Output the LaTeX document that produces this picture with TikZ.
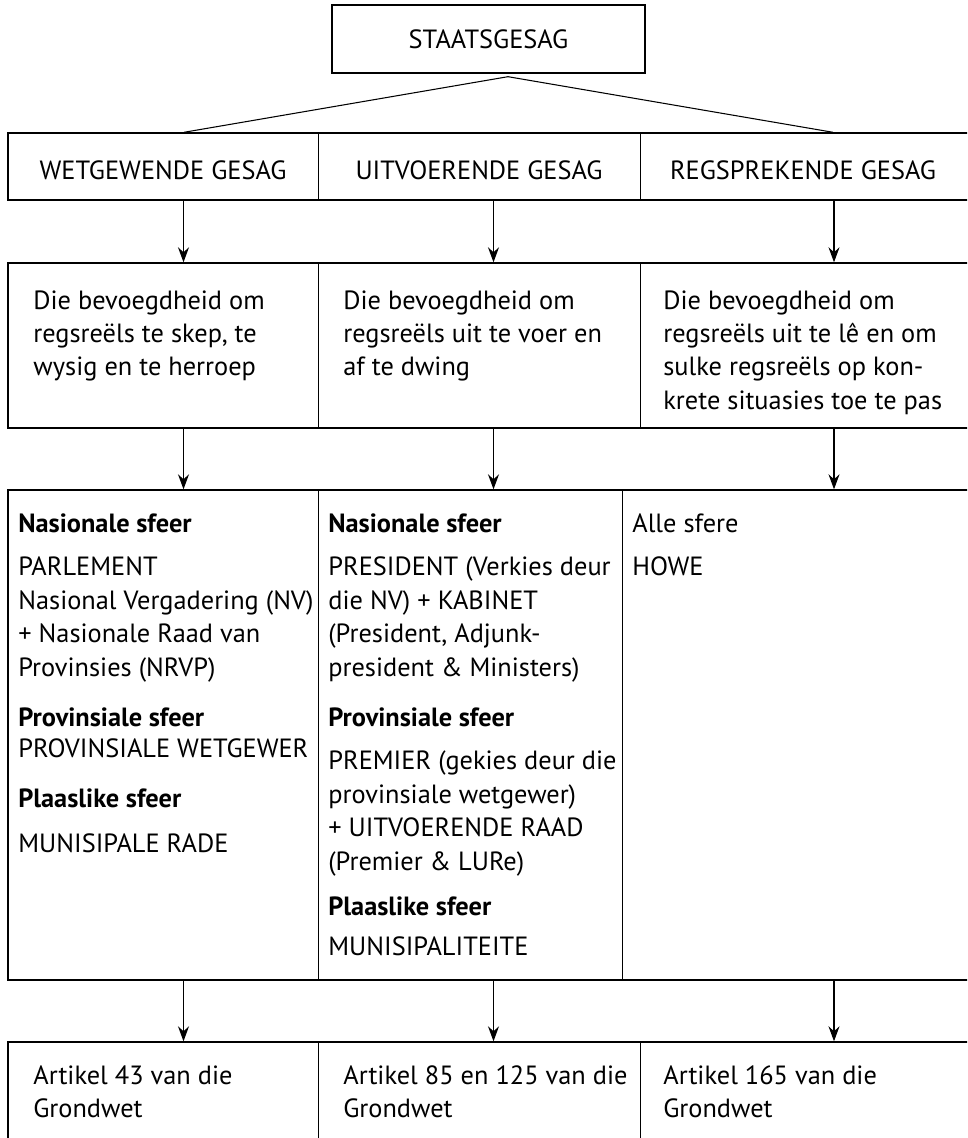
\documentclass[tikz,border=0pt]{standalone}
\usepackage{fontspec}
\setmainfont{PT Sans}
\usetikzlibrary{positioning, arrows.meta, fit, calc}
\tikzset{
  row/.style={draw, line width=0.8pt, inner sep=0pt},
  head/.style={draw, line width=0.8pt, inner sep=0pt, minimum width=6.26cm, minimum height=1.36cm, font=\fontsize{15}{19}\selectfont},
  txt/.style={inner sep=0pt, anchor=north west, align=left, font=\fontsize{15}{19}\selectfont},
  mid/.style={inner sep=0pt, anchor=base, font=\fontsize{15}{19}\selectfont},
  sep/.style={line width=0.5pt},
  arr/.style={line width=0.6pt, -{Stealth[length=3mm, width=2.2mm, inset=1mm]}}
}

\begin{document}
\begin{tikzpicture}[x=0.02cm, y=-0.02cm]
  \useasboundingbox (0,0) rectangle (967,1138);
  \clip (0,0) rectangle (967,1138);

  % Column guides
  \coordinate (k1) at (183.5,0);
  \coordinate (k2) at (493.5,0);
  \coordinate (k3) at (834,0);
  \coordinate (d1) at (318,0);
  \coordinate (d2) at (640,0);
  \coordinate (d3) at (622,0);

  % Top box
  \node[head] (staat) at (488.5,39) {STAATSGESAG};

  % Rows
  \node[row, fit={(8,133) (970,200)}] (gesag) {};
  \node[row, fit={(8,263) (970,428)}] (bevoeg) {};
  \node[row, fit={(8,490) (970,980)}] (organe) {};
  \node[row, fit={(8,1042) (970,1170)}] (artikel) {};

  % Column dividers
  \foreach \r in {gesag, bevoeg, artikel} {
    \draw[sep] (\r.north -| d1) -- (\r.south -| d1);
    \draw[sep] (\r.north -| d2) -- (\r.south -| d2);
  }
  \draw[sep] (organe.north -| d1) -- (organe.south -| d1);
  \draw[sep] (organe.north -| d3) -- (organe.south -| d3);

  % Row 1
  \node[mid] (wg) at (163,180) {WETGEWENDE GESAG};
  \node[mid] (ug) at (479,180) {UITVOERENDE GESAG};
  \node[mid] (rg) at (803,180) {REGSPREKENDE GESAG};

  % Row 2
  \node[txt] (b1) at (33,290) {Die bevoegdheid om\\regsreëls te skep, te\\wysig en te herroep};
  \node[txt] (b2) at (343,290) {Die bevoegdheid om\\regsreëls uit te voer en\\af te dwing};
  \node[txt] (b3) at (663,290) {Die bevoegdheid om\\regsreëls uit te lê en om\\sulke regsreëls op kon-\\krete situasies toe te pas};

  % Row 3
  \node[txt] (o1) at (18,513) {\textbf{Nasionale sfeer}\\[0.21cm]
    PARLEMENT\\Nasional Vergadering (NV)\\+ Nasionale Raad van\\Provinsies (NRVP)\\[0.33cm]
    \textbf{Provinsiale sfeer}\\[-0.03cm]
    PROVINSIALE WETGEWER\\[0.33cm]
    \textbf{Plaaslike sfeer}\\[0.23cm]
    MUNISIPALE RADE};
  \node[txt] (o2) at (328,513) {\textbf{Nasionale sfeer}\\[0.21cm]
    PRESIDENT (Verkies deur\\die NV) + KABINET\\(President, Adjunk-\\president \& Ministers)\\[0.33cm]
    \textbf{Provinsiale sfeer}\\[0.21cm]
    PREMIER (gekies deur die\\provinsiale wetgewer)\\+ UITVOERENDE RAAD\\(Premier \& LURe)\\[0.25cm]
    \textbf{Plaaslike sfeer}\\[0.13cm]
    MUNISIPALITEITE};
  \node[txt] (o3) at (632,513) {Alle sfere\\[0.21cm]HOWE};

  % Row 4
  \node[txt] (a1) at (33,1065) {Artikel 43 van die\\Grondwet};
  \node[txt] (a2) at (343,1065) {Artikel 85 en 125 van die\\Grondwet};
  \node[txt] (a3) at (663,1065) {Artikel 165 van die\\Grondwet};

  % Branches from the top box
  \coordinate (t1) at (184,0);
  \coordinate (t3) at (833,0);
  \draw[line width=0.6pt] (t1 |- gesag.north) -- ([xshift=0.39cm, yshift=-0.06cm]staat.south) -- (t3 |- gesag.north);

  % Arrows between rows
  \foreach \a/\b in {gesag/bevoeg, bevoeg/organe, organe/artikel}
    \foreach \k in {k1, k2, k3}
      \draw[arr] (\a.south -| \k) -- (\b.north -| \k);
\end{tikzpicture}
\end{document}
